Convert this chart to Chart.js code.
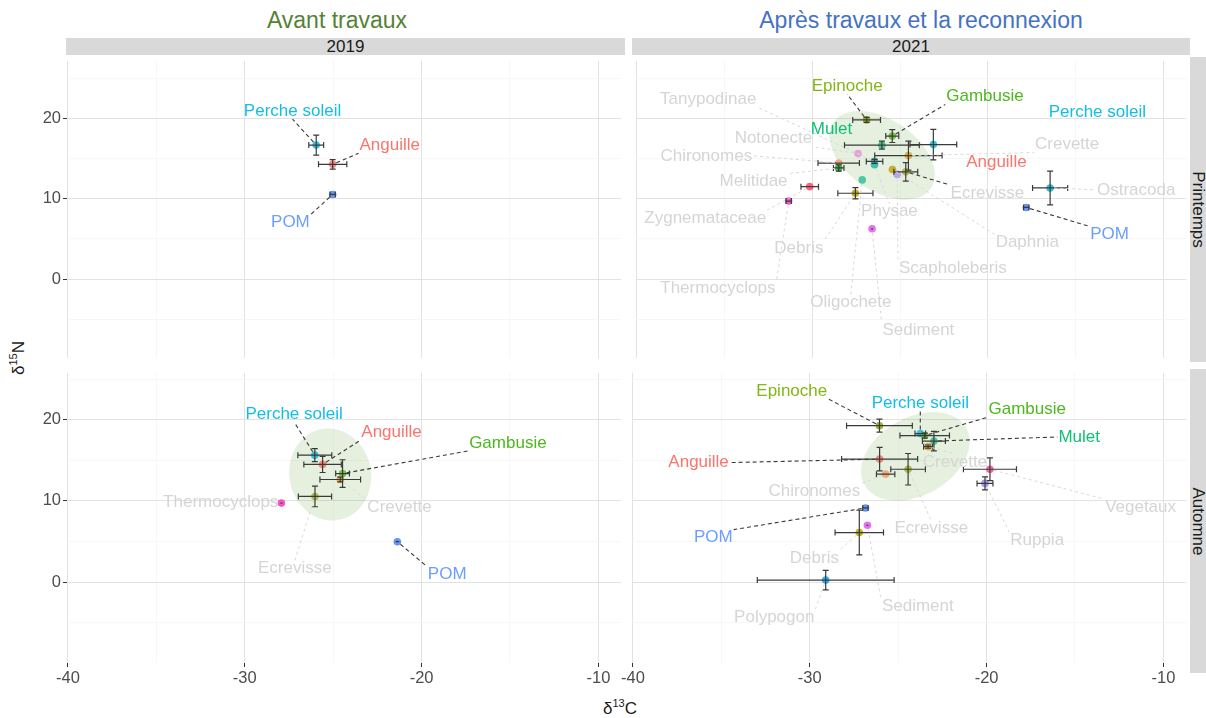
<!DOCTYPE html>
<html><head><meta charset="utf-8">
<script src="https://cdn.jsdelivr.net/npm/chart.js@4.4.1/dist/chart.umd.min.js"></script>
<style>
body{margin:0;background:#fff;font-family:"Liberation Sans",Arial,sans-serif;}
#wrap{position:relative;width:1206px;height:718px;overflow:hidden;background:#fff}
canvas{position:absolute}
.title{position:absolute;top:7px;font-size:23px;line-height:26px;white-space:nowrap;transform:translateX(-50%)}
.strip{position:absolute;background:#D9D9D9;color:#1A1A1A;font-size:17px;line-height:17px;display:flex;align-items:center;justify-content:center;overflow:hidden}
.vt{transform:rotate(90deg);white-space:nowrap}
.axt{position:absolute;color:#1A1A1A;font-size:17px;white-space:nowrap}
.axt sup{font-size:11px;line-height:0}
</style></head>
<body><div id="wrap">
<div class="title" style="left:337px;color:#548235">Avant travaux</div>
<div class="title" style="left:921px;color:#4472C4">Après travaux et la reconnexion</div>
<div class="strip" style="left:66px;top:38px;width:559px;height:17px">2019</div>
<div class="strip" style="left:632px;top:38px;width:558px;height:17px">2021</div>
<div class="strip" style="left:1190px;top:57px;width:16px;height:305px"><span class="vt">Printemps</span></div>
<div class="strip" style="left:1190px;top:369px;width:16px;height:304px"><span class="vt">Automne</span></div>
<div class="axt" style="left:620px;top:709px;transform:translate(-50%,-50%)">δ<sup>13</sup>C</div>
<div class="axt" style="left:19px;top:358px;transform:translate(-50%,-50%) rotate(-90deg)">δ<sup>15</sup>N</div>
<canvas id="cA" width="625" height="305" style="left:0;top:57px"></canvas>
<canvas id="cB" width="558" height="305" style="left:632px;top:57px"></canvas>
<canvas id="cC" width="625" height="349" style="left:0;top:369px"></canvas>
<canvas id="cD" width="578" height="349" style="left:612px;top:369px"></canvas>
</div>
<script>
// ---------- axis ranges ----------
const XMIN = -40.056, XMAX = -8.71;
const TOP_Y = [-9.85, 27.2];
const BOT_Y = [-9.98, 25.79];

// ---------- 2019 · Printemps ----------
const p1Names = ['Perche soleil','Anguille','POM'];
const p1X  = [-25.96,-25.03,-25.03];
const p1Y  = [16.7,14.3,10.55];
const p1Ex = [0.42,0.8,0.15];
const p1Ey = [1.25,0.6,0];
const p1LabNames = ['Perche soleil','Anguille','POM'];
const p1LabX = [-27.3,-21.8,-27.42];
const p1LabY = [20.92,16.67,7.06];

// ---------- 2021 · Printemps ----------
const p2Names = ['Epinoche','Gambusie','Mulet','Perche soleil','Notonecte','Crevette','Chironomes','Melitidae','Tanypodinae','Physae','Daphnia','Scapholeberis','Ecrevisse','Oligochete','Zygnemataceae','Thermocyclops','Debris','Sediment','Ostracoda','POM'];
const p2X  = [-26.91,-25.45,-26.04,-23.11,-27.40,-24.53,-28.50,-28.50,-26.46,-26.46,-25.44,-25.17,-24.68,-27.16,-30.15,-31.35,-27.55,-26.60,-16.46,-17.82];
const p2Y  = [19.84,17.82,16.69,16.76,15.64,15.39,14.46,13.85,14.67,14.26,13.66,13.05,13.37,12.36,11.52,9.73,10.70,6.27,11.36,8.93];
const p2Ex = [0.79,0.37,2.13,1.33,0,1.92,1.18,0.3,0.47,0,0,0,0.68,0,0.5,0.15,1.0,0.05,1.0,0.15];
const p2Ey = [0.3,0.8,0.5,1.9,0,1.8,0,0.4,0.25,0,0,0,1.15,0,0,0,0.7,0,2.1,0];
const p2LabNames = ['Epinoche','Gambusie','Perche soleil','Mulet','Anguille','Tanypodinae','Notonecte','Chironomes','Crevette','Melitidae','Ecrevisse','Zygnemataceae','Physae','Ostracoda','POM','Daphnia','Debris','Scapholeberis','Thermocyclops','Oligochete','Sediment'];
const p2LabX = [-28.02,-20.17,-13.77,-28.91,-19.52,-35.93,-32.22,-36.04,-15.49,-33.35,-20.03,-36.10,-25.61,-11.56,-13.07,-17.76,-30.77,-22.00,-35.38,-27.81,-23.96];
const p2LabY = [24.04,22.75,20.81,18.70,14.58,22.42,17.49,15.36,16.76,12.16,10.75,7.60,8.40,11.12,5.58,4.57,3.84,1.33,-1.18,-2.91,-6.34];
const p2TextOnly = ['Perche soleil','Mulet','Anguille'];
const p2Ellipse = [-26.03,15.42,2.76,-4.17,1.18,3.62];

// ---------- 2019 · Automne ----------
const p3Names = ['Perche soleil','Anguille','Gambusie','Crevette','Ecrevisse','Thermocyclops','POM'];
const p3X  = [-26.04,-25.60,-24.47,-24.60,-26.03,-27.93,-21.37];
const p3Y  = [15.64,14.50,13.37,12.64,10.55,9.73,4.97];
const p3Ex = [0.96,1.06,0.39,1.15,0.94,0.05,0.1];
const p3Ey = [0.8,1.0,1.7,0.3,1.27,0,0];
const p3LabNames = ['Perche soleil','Anguille','Gambusie','Crevette','Thermocyclops','Ecrevisse','POM'];
const p3LabX = [-27.21,-21.70,-15.12,-21.25,-31.36,-27.17,-18.55];
const p3LabY = [20.72,18.45,17.15,9.16,9.85,1.67,0.94];
const p3Ellipse = [-25.17,13.25,-0.47,5.61,2.27,0.88];

// ---------- 2021 · Automne ----------
const p4Names = ['Epinoche','Perche soleil','Gambusie','Mulet','Crevette','Anguille','Ecrevisse','Chironomes','Vegetaux','Ruppia','POM','Sediment','Debris','Polypogon'];
const p4X  = [-26.06,-23.75,-23.50,-22.98,-23.31,-26.05,-24.44,-25.71,-19.81,-20.09,-26.85,-26.74,-27.20,-29.10];
const p4Y  = [19.27,18.30,18.05,17.37,16.69,15.15,13.90,13.30,13.90,12.16,9.13,6.99,6.10,0.24];
const p4Ex = [1.86,0.3,1.4,0.65,0.25,2.15,0.98,0.52,1.5,0.45,0.15,0.05,1.37,3.87];
const p4Ey = [0.8,0,0.3,1.2,0.2,1.45,1.94,0,1.41,0.8,0,0,2.75,1.2];
const p4LabNames = ['Epinoche','Perche soleil','Gambusie','Mulet','Anguille','Crevette','Chironomes','POM','Ecrevisse','Ruppia','Vegetaux','Debris','Sediment','Polypogon'];
const p4LabX = [-31.02,-23.75,-17.70,-14.76,-36.29,-21.79,-29.74,-35.46,-23.13,-17.14,-11.29,-29.74,-23.89,-32.01];
const p4LabY = [23.56,22.02,21.29,17.88,14.72,14.81,11.16,5.47,6.61,5.19,9.25,2.96,-3.04,-4.34];
const p4Ellipse = [-24.03,15.48,2.86,3.56,1.11,-4.13];

// ---------- colours ----------
const ptColor = {
  'Anguille':'#F8766DDD','Perche soleil':'#1CB8DADD','POM':'#4F86F0DD','Gambusie':'#5DB82EDD',
  'Epinoche':'#86A814DD','Mulet':'#2EC28ADD','Crevette':'#E0A43CDD','Ecrevisse':'#A9B23ADD',
  'Thermocyclops':'#F03CC0DD','Zygnemataceae':'#F2506EDD','Chironomes':'#EFA070DD','Melitidae':'#1DB33ADD',
  'Notonecte':'#E994DADD','Tanypodinae':'#22BFC0DD','Physae':'#2CB5A8DD','Daphnia':'#C4A515DD',
  'Scapholeberis':'#B69CE6DD','Oligochete':'#33C49ADD','Debris':'#BFA000DD','Sediment':'#DD5CEBDD',
  'Ostracoda':'#12B9CFDD','Vegetaux':'#F0509ADD','Ruppia':'#9B8BF2DD','Polypogon':'#14A5EEDD'
};
const labColor = {'Perche soleil':'#13BDE6','Anguille':'#F8766D','POM':'#6C9EFF','Gambusie':'#4DB81E','Epinoche':'#83B716','Mulet':'#0FBF74'};
const GREY_LAB = '#D5D5D5';
const darkSegExtra = ['Ecrevisse'];

const FONT = '"Liberation Sans", Arial, sans-serif';

function makeDecor(P){
  return {
    id:'decor'+P.id,
    beforeDatasetsDraw(chart){
      const {ctx, chartArea:a} = chart; const xs = chart.scales.x, ys = chart.scales.y;
      if(!P.ell) return;
      ctx.save();
      ctx.beginPath(); ctx.rect(a.left,a.top,a.right-a.left,a.bottom-a.top); ctx.clip();
      const [cx,cy,ax,ay,bx,by] = P.ell;
      ctx.beginPath();
      for(let k=0;k<=120;k++){
        const t = k/120*2*Math.PI;
        const px = xs.getPixelForValue(cx+ax*Math.cos(t)+bx*Math.sin(t));
        const py = ys.getPixelForValue(cy+ay*Math.cos(t)+by*Math.sin(t));
        k===0?ctx.moveTo(px,py):ctx.lineTo(px,py);
      }
      ctx.closePath();
      ctx.fillStyle='rgba(112,173,71,0.18)'; ctx.fill();
      ctx.restore();
    },
    afterDatasetsDraw(chart){
      const {ctx, chartArea:a} = chart; const xs = chart.scales.x, ys = chart.scales.y;
      ctx.save();
      ctx.beginPath(); ctx.rect(a.left,a.top,a.right-a.left,a.bottom-a.top); ctx.clip();
      // error bars
      ctx.strokeStyle='#3a3a3a'; ctx.lineWidth=1.2; ctx.setLineDash([]);
      const cap=3;
      P.names.forEach((n,i)=>{
        const px=xs.getPixelForValue(P.x[i]), py=ys.getPixelForValue(P.y[i]);
        if(P.ex[i]>0){
          const l=xs.getPixelForValue(P.x[i]-P.ex[i]), r=xs.getPixelForValue(P.x[i]+P.ex[i]);
          ctx.beginPath(); ctx.moveTo(l,py); ctx.lineTo(r,py);
          if(r-l>4){ctx.moveTo(l,py-cap);ctx.lineTo(l,py+cap);ctx.moveTo(r,py-cap);ctx.lineTo(r,py+cap);}
          ctx.stroke();
        }
        if(P.ey[i]>0){
          const t=ys.getPixelForValue(P.y[i]+P.ey[i]), b=ys.getPixelForValue(P.y[i]-P.ey[i]);
          ctx.beginPath(); ctx.moveTo(px,t); ctx.lineTo(px,b);
          ctx.moveTo(px-cap,t);ctx.lineTo(px+cap,t);ctx.moveTo(px-cap,b);ctx.lineTo(px+cap,b);
          ctx.stroke();
        }
      });
      // labels + segments (ggrepel-like connection: edge midpoint or corner)
      ctx.font='17px '+FONT; ctx.textAlign='center'; ctx.textBaseline='middle';
      const items = P.labNames.map((n,i)=>{
        const lx=xs.getPixelForValue(P.labX[i]), ly=ys.getPixelForValue(P.labY[i]);
        const w=ctx.measureText(n).width; return {n,lx,ly,hw:w/2+1,hh:8};
      });
      items.forEach(it=>{
        if(P.textOnly && P.textOnly.includes(it.n)) return;
        const j=P.names.indexOf(it.n); if(j<0) return;
        const px=xs.getPixelForValue(P.x[j]), py=ys.getPixelForValue(P.y[j]);
        const L=it.lx-it.hw, R=it.lx+it.hw, T=it.ly-it.hh, B=it.ly+it.hh;
        const ex = px<L ? L : (px>R ? R : it.lx);
        const ey = py<T ? T : (py>B ? B : it.ly);
        const dx=ex-px, dy=ey-py, d=Math.hypot(dx,dy);
        const inside = px>=L-3 && px<=R+3 && py>=T-3 && py<=B+3;
        if(d<9 || inside) return;
        const sx=px+dx/d*4, sy=py+dy/d*4;
        const dark = !!labColor[it.n] || (P.darkSeg && P.darkSeg.includes(it.n));
        ctx.strokeStyle = dark ? '#3a3a3a' : '#D9D9D9';
        ctx.lineWidth = dark ? 1.1 : 1;
        ctx.setLineDash(dark?[4,3]:[3,3]);
        ctx.beginPath(); ctx.moveTo(sx,sy); ctx.lineTo(ex,ey); ctx.stroke();
      });
      ctx.setLineDash([]);
      items.forEach(it=>{
        ctx.fillStyle = labColor[it.n] || GREY_LAB;
        ctx.fillText(it.n,it.lx,it.ly);
      });
      ctx.restore();
    }
  };
}

function makeChart(id, P, o){
  const major = c => c && c.tick && Math.abs(Math.round(c.tick.value)%10)===0;
  const tickFont = {family:FONT, size:16.5};
  const gridOpts = show => ({
    color: c => major(c)?'#E2E2E2':'#F4F4F4',
    lineWidth: c => major(c)?1:0.7,
    drawTicks: show, tickLength:4, tickWidth:1,
    tickColor: c => major(c)?'#333333':'rgba(0,0,0,0)'
  });
  const lab = v => (Math.abs(Math.round(v)%10)===0 ? String(Math.round(v)) : '');
  return new Chart(document.getElementById(id), {
    type:'scatter',
    data:{datasets:[{
      data:P.x.map((v,i)=>({x:v,y:P.y[i]})),
      pointRadius:3.8, pointHoverRadius:3.8, pointBorderWidth:0,
      pointBackgroundColor:P.names.map(n=>ptColor[n]||'#999')
    }]},
    options:{
      responsive:false, animation:false, devicePixelRatio:1,
      layout:{padding:0},
      events:[],
      plugins:{legend:{display:false}, tooltip:{enabled:false}},
      scales:{
        x:{type:'linear', position:'bottom', min:XMIN, max:XMAX, border:{display:false},
           ticks:{display:o.showX, stepSize:5, includeBounds:false, autoSkip:false, maxRotation:0, minRotation:0,
                  color:'#4D4D4D', font:tickFont, padding:2, callback:lab},
           grid:gridOpts(o.showX),
           afterFit:s=>{ s.height=o.showX?55:0; s.paddingLeft=0; s.paddingRight=0; }
        },
        y:{type:'linear', position:'left', min:o.yr[0], max:o.yr[1], border:{display:false},
           ticks:{display:o.showY, stepSize:5, includeBounds:false, autoSkip:false,
                  color:'#4D4D4D', font:tickFont, padding:2, callback:lab},
           grid:gridOpts(o.showY),
           afterFit:s=>{ s.width=o.yw; s.paddingTop=0; s.paddingBottom=0; }
        }
      }
    },
    plugins:[makeDecor(P)]
  });
}

makeChart('cA', {id:'A',names:p1Names,x:p1X,y:p1Y,ex:p1Ex,ey:p1Ey,labNames:p1LabNames,labX:p1LabX,labY:p1LabY},
  {showX:false, showY:true, yw:67, yr:TOP_Y});
makeChart('cB', {id:'B',names:p2Names,x:p2X,y:p2Y,ex:p2Ex,ey:p2Ey,labNames:p2LabNames,labX:p2LabX,labY:p2LabY,textOnly:p2TextOnly,ell:p2Ellipse,darkSeg:darkSegExtra},
  {showX:false, showY:false, yw:0, yr:TOP_Y});
makeChart('cC', {id:'C',names:p3Names,x:p3X,y:p3Y,ex:p3Ex,ey:p3Ey,labNames:p3LabNames,labX:p3LabX,labY:p3LabY,ell:p3Ellipse},
  {showX:true, showY:true, yw:67, yr:BOT_Y});
makeChart('cD', {id:'D',names:p4Names,x:p4X,y:p4Y,ex:p4Ex,ey:p4Ey,labNames:p4LabNames,labX:p4LabX,labY:p4LabY,ell:p4Ellipse},
  {showX:true, showY:false, yw:20, yr:BOT_Y});
</script>
</body></html>
